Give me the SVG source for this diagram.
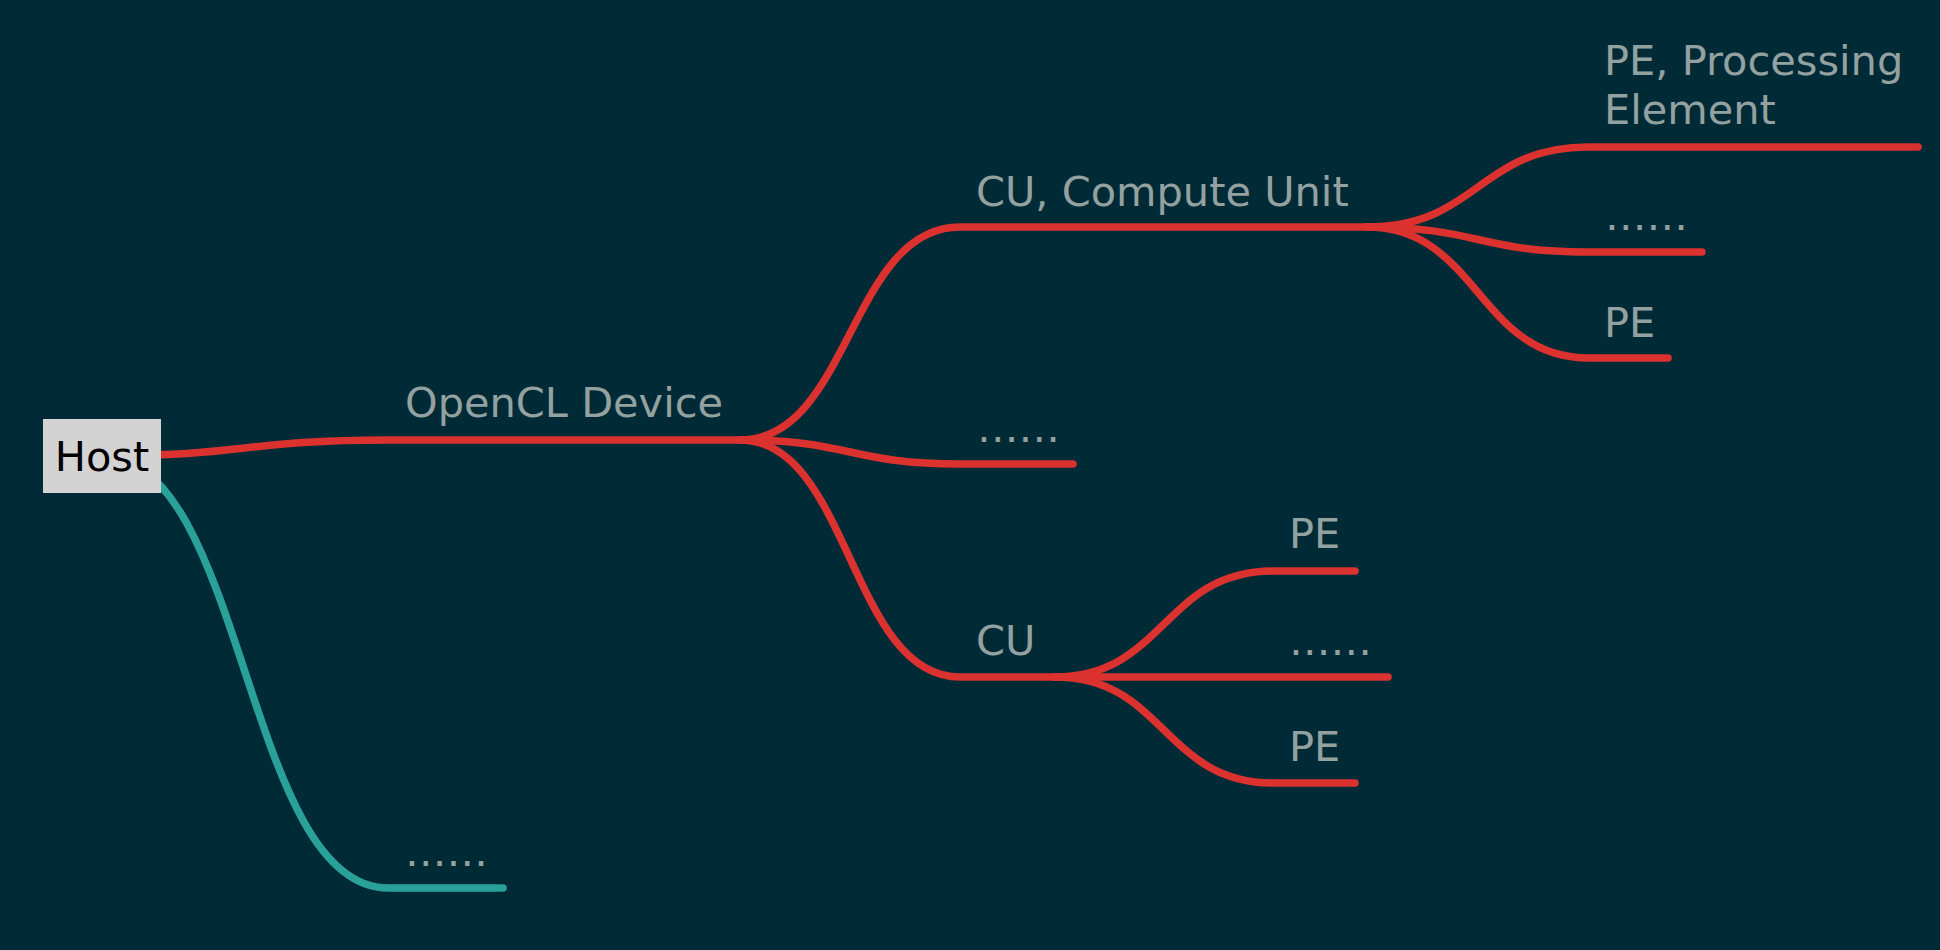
<svg xmlns="http://www.w3.org/2000/svg" width="1940" height="950" viewBox="0 0 1940 950">
<style>
.bg{fill:#002b36}
.lbl{font-family:"DejaVu Sans",sans-serif;font-size:41.5px;fill:#93a1a1}
.root{font-family:"DejaVu Sans",sans-serif;font-size:41.5px;fill:#000;text-anchor:middle}
.r{fill:none;stroke:#dc322f;stroke-width:7.5;stroke-linecap:round}
.t{fill:none;stroke:#2aa198;stroke-width:7.5;stroke-linecap:round}
</style>
<rect class="bg" x="0" y="0" width="1940" height="950"/>
<g id="connectors">
  <path class="r" d="M102,456 C245,456 245,440 388,440 H740"/>
  <path class="t" d="M102,456 C245,456 245,888 388,888 H503"/>
  <path class="r" d="M740,440 C850,440 850,227 960,227 H1367"/>
  <path class="r" d="M740,440 C850,440 850,464 960,464 H1073"/>
  <path class="r" d="M740,440 C850,440 850,677 960,677 H1055"/>
  <path class="r" d="M1367,227 C1478,227 1478,147 1589,147 H1918"/>
  <path class="r" d="M1367,227 C1478,227 1478,252 1589,252 H1702"/>
  <path class="r" d="M1367,227 C1478,227 1478,358 1589,358 H1668"/>
  <path class="r" d="M1055,677 C1164,677 1164,571 1273,571 H1355"/>
  <path class="r" d="M1055,677 C1164,677 1164,677 1273,677 H1388"/>
  <path class="r" d="M1055,677 C1164,677 1164,783 1273,783 H1355"/>
</g>
<g id="host">
  <rect x="43" y="419" width="118" height="74" fill="#d3d3d3"/>
  <text class="root" x="102" y="471">Host</text>
</g>
<g id="opencl-device"><text class="lbl" x="405" y="417">OpenCL Device</text></g>
<g id="host-more"><text class="lbl" x="405" y="866">……</text></g>
<g id="cu-compute-unit"><text class="lbl" x="976" y="206">CU, Compute Unit</text></g>
<g id="device-more"><text class="lbl" x="977" y="442">……</text></g>
<g id="cu"><text class="lbl" x="976" y="655">CU</text></g>
<g id="pe-processing"><text class="lbl" x="1604" y="75">PE, Processing<tspan x="1604" y="124">Element</tspan></text></g>
<g id="cu1-more"><text class="lbl" x="1605" y="230">……</text></g>
<g id="cu1-pe"><text class="lbl" x="1604" y="337">PE</text></g>
<g id="cu2-pe1"><text class="lbl" x="1289" y="548">PE</text></g>
<g id="cu2-more"><text class="lbl" x="1289" y="655">……</text></g>
<g id="cu2-pe2"><text class="lbl" x="1289" y="761">PE</text></g>
</svg>
